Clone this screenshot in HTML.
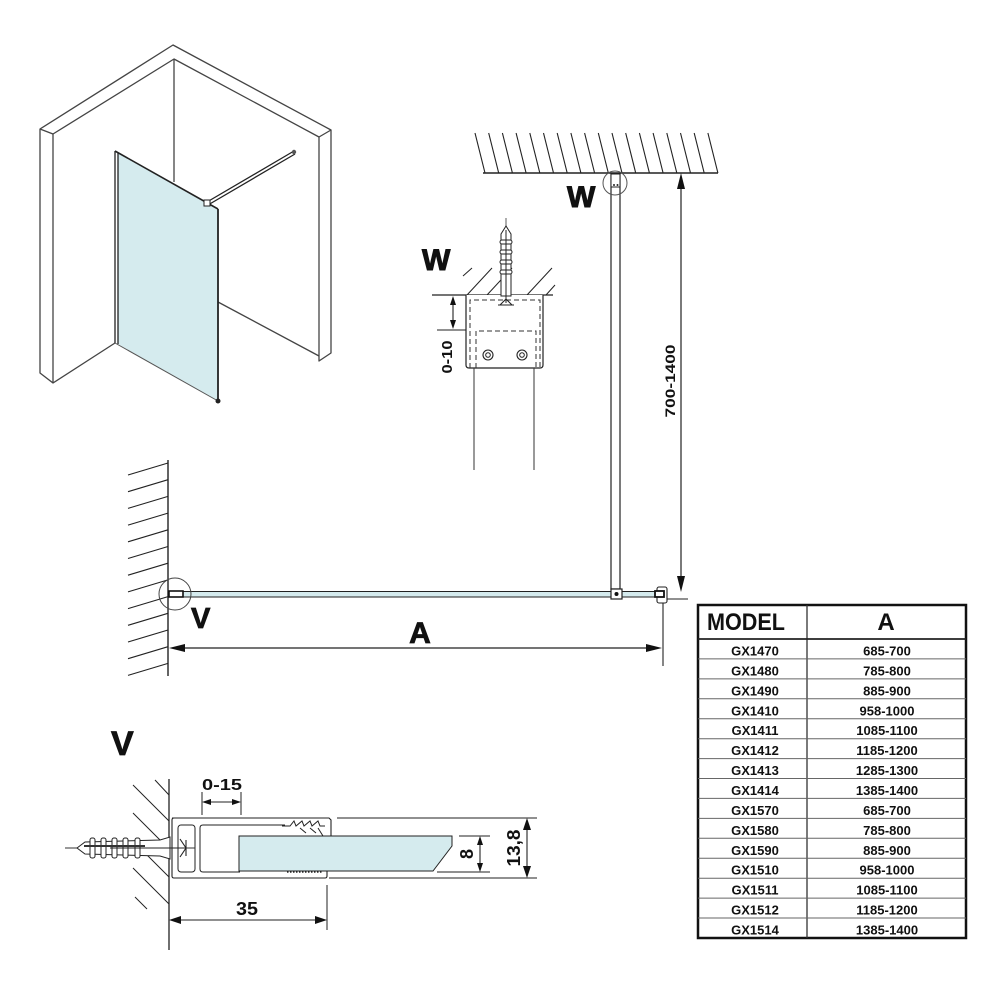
<!DOCTYPE html>
<html><head><meta charset="utf-8"><style>
html,body{margin:0;padding:0;background:#fff;}
svg{display:block;}
text{font-family:"Liberation Sans",Arial,sans-serif;font-weight:bold;fill:#111;}
</style></head><body>
<svg xmlns="http://www.w3.org/2000/svg" width="1000" height="1000" viewBox="0 0 1000 1000">
<rect width="1000" height="1000" fill="#fff"/>

<!-- ISO VIEW -->
<g fill="none" stroke="#444" stroke-width="1.3" stroke-linejoin="round">
  <path d="M40,129 L173,45 L331,130 L331,353 L319,361 L319,137 L174,59 L53,134 L53,383 L40,373 Z" fill="#fff"/>
  <line x1="40" y1="129" x2="53" y2="134"/>
  <line x1="331" y1="130" x2="319" y2="137"/>
  <line x1="174" y1="59" x2="174" y2="182"/>
  <line x1="53" y1="383" x2="115" y2="343"/>
  <line x1="218" y1="302" x2="319" y2="356"/>
</g>
<polygon points="118,153 218,210 218,401 118,344" fill="#d5ebee" stroke="none"/>
<g fill="none" stroke="#222" stroke-width="1.3">
  <line x1="115" y1="151" x2="115" y2="343"/>
  <line x1="118" y1="153" x2="118" y2="344"/>
  <line x1="115" y1="151" x2="218" y2="209" stroke-width="1.6"/>
  <line x1="218" y1="209" x2="218" y2="401" stroke-width="1.8"/>
  <line x1="115" y1="343" x2="218" y2="401" stroke="#555" stroke-width="1"/>
  <line x1="207" y1="202" x2="294" y2="151"/>
  <line x1="208" y1="205" x2="295" y2="154"/>
</g>
<rect x="204" y="200" width="6" height="6" fill="#fff" stroke="#222" stroke-width="1"/>
<circle cx="294" cy="152" r="2.2" fill="#555"/>
<circle cx="218" cy="401" r="2.5" fill="#222"/>

<!-- CEILING HATCH -->
<g stroke="#222" stroke-width="1.1">
  <line x1="483" y1="173" x2="718" y2="173" stroke-width="1.4"/>
  <line x1="475" y1="133" x2="485" y2="173"/>
  <line x1="488.7" y1="133" x2="498.7" y2="173"/>
  <line x1="502.4" y1="133" x2="512.4" y2="173"/>
  <line x1="516.1" y1="133" x2="526.1" y2="173"/>
  <line x1="529.8" y1="133" x2="539.8" y2="173"/>
  <line x1="543.5" y1="133" x2="553.5" y2="173"/>
  <line x1="557.2" y1="133" x2="567.2" y2="173"/>
  <line x1="570.9" y1="133" x2="580.9" y2="173"/>
  <line x1="584.6" y1="133" x2="594.6" y2="173"/>
  <line x1="598.3" y1="133" x2="608.3" y2="173"/>
  <line x1="612" y1="133" x2="622" y2="173"/>
  <line x1="625.7" y1="133" x2="635.7" y2="173"/>
  <line x1="639.4" y1="133" x2="649.4" y2="173"/>
  <line x1="653.1" y1="133" x2="663.1" y2="173"/>
  <line x1="666.8" y1="133" x2="676.8" y2="173"/>
  <line x1="680.5" y1="133" x2="690.5" y2="173"/>
  <line x1="694.2" y1="133" x2="704.2" y2="173"/>
  <line x1="707.9" y1="133" x2="717.9" y2="173"/>
</g>

<!-- vertical bar -->
<rect x="611" y="174" width="9" height="415" fill="#fff" stroke="#222" stroke-width="1.2"/>
<circle cx="615" cy="183" r="12" fill="none" stroke="#555" stroke-width="1"/>
<rect x="611" y="174" width="9" height="13" fill="#fff" stroke="#222" stroke-width="1"/>
<circle cx="614" cy="185" r="1" fill="#222"/><circle cx="617.5" cy="185" r="1" fill="#222"/>
<text x="567" y="207" font-size="30" stroke="#111" stroke-width="1">W</text>

<!-- 700-1400 dim -->
<line x1="681" y1="180" x2="681" y2="585" stroke="#222" stroke-width="1.2"/>
<polygon points="681,173 677,189 685,189" fill="#111"/>
<polygon points="681,592 677,576 685,576" fill="#111"/>
<text transform="translate(675,381) rotate(-90)" text-anchor="middle" font-size="14" textLength="73" lengthAdjust="spacingAndGlyphs">700-1400</text>
<line x1="667" y1="599" x2="688" y2="599" stroke="#222" stroke-width="1"/>

<!-- left wall main -->
<g stroke="#222" stroke-width="1.1">
  <line x1="168" y1="460" x2="168" y2="676" stroke-width="1.4"/>
  <line x1="128" y1="475" x2="168" y2="463"/>
  <line x1="128" y1="491.7" x2="168" y2="479.7"/>
  <line x1="128" y1="508.4" x2="168" y2="496.4"/>
  <line x1="128" y1="525.1" x2="168" y2="513.1"/>
  <line x1="128" y1="541.8" x2="168" y2="529.8"/>
  <line x1="128" y1="558.5" x2="168" y2="546.5"/>
  <line x1="128" y1="575.2" x2="168" y2="563.2"/>
  <line x1="128" y1="591.9" x2="168" y2="579.9"/>
  <line x1="128" y1="608.6" x2="168" y2="596.6"/>
  <line x1="128" y1="625.3" x2="168" y2="613.3"/>
  <line x1="128" y1="642" x2="168" y2="630"/>
  <line x1="128" y1="658.7" x2="168" y2="646.7"/>
  <line x1="128" y1="675.4" x2="168" y2="663.4"/>
</g>

<!-- horizontal bar -->
<rect x="183" y="591.5" width="475" height="5.5" fill="#d5ebee" stroke="#222" stroke-width="1"/>
<rect x="169" y="591" width="14" height="6" fill="#fff" stroke="#111" stroke-width="1.6"/>
<circle cx="175" cy="594" r="16" fill="none" stroke="#444" stroke-width="1"/>
<rect x="611" y="589" width="11" height="10" fill="#fff" stroke="#222" stroke-width="1.2"/>
<circle cx="616.5" cy="594" r="2" fill="#111"/>
<rect x="657" y="587" width="10" height="16" rx="2" fill="#fff" stroke="#222" stroke-width="1.1"/>
<rect x="655" y="591" width="9" height="6" fill="#fff" stroke="#111" stroke-width="1.8"/>
<text x="191" y="628" font-size="29" stroke="#111" stroke-width="0.8">V</text>

<!-- A dim -->
<line x1="176" y1="648" x2="656" y2="648" stroke="#222" stroke-width="1.2"/>
<polygon points="169,648 185,644 185,652" fill="#111"/>
<polygon points="662,648 646,644 646,652" fill="#111"/>
<line x1="663" y1="603" x2="663" y2="666" stroke="#222" stroke-width="1.1"/>
<text x="420" y="643" font-size="30" text-anchor="middle" stroke="#111" stroke-width="0.8">A</text>

<!-- W DETAIL -->
<text x="422" y="270" font-size="30" stroke="#111" stroke-width="1">W</text>
<g stroke="#222" stroke-width="1">
  <line x1="463" y1="276" x2="472" y2="268"/>
  <line x1="467" y1="295" x2="492" y2="268"/>
  <line x1="487" y1="295" x2="512" y2="268"/>
  <line x1="527" y1="295" x2="552" y2="268"/>
  <line x1="546" y1="295" x2="555" y2="285"/>
  <line x1="432" y1="295" x2="553" y2="295" stroke-width="1.3"/>
</g>
<path d="M466,295 L466,365 Q466,368 469,368 L540,368 Q543,368 543,365 L543,295" fill="#fff" stroke="#222" stroke-width="1.2"/>
<path d="M470,368 L470,300 L540,300 L540,368" fill="none" stroke="#333" stroke-width="1" stroke-dasharray="5,3"/>
<path d="M476,368 L476,331 L536,331 L536,368" fill="none" stroke="#333" stroke-width="1" stroke-dasharray="5,3"/>
<circle cx="488" cy="355" r="5" fill="#fff" stroke="#222" stroke-width="1.1"/>
<circle cx="488" cy="355" r="2.3" fill="none" stroke="#222" stroke-width="1"/>
<circle cx="522" cy="355" r="5" fill="#fff" stroke="#222" stroke-width="1.1"/>
<circle cx="522" cy="355" r="2.3" fill="none" stroke="#222" stroke-width="1"/>
<!-- anchor -->
<line x1="506" y1="218" x2="506" y2="226" stroke="#333" stroke-width="0.8"/>
<path d="M506,226 L501,234 L501,296 L511,296 L511,234 Z" fill="#fff" stroke="#222" stroke-width="1"/>
<g fill="#fff" stroke="#222" stroke-width="1">
  <rect x="500" y="240" width="12" height="4" rx="2"/>
  <rect x="500" y="250" width="12" height="4" rx="2"/>
  <rect x="500" y="260" width="12" height="4" rx="2"/>
  <rect x="500" y="270" width="12" height="4" rx="2"/>
</g>
<line x1="506" y1="230" x2="506" y2="303" stroke="#222" stroke-width="1"/>
<path d="M498,305 L514,305 M500,305 L506,299 L512,305" fill="none" stroke="#222" stroke-width="1.1"/>
<line x1="474" y1="368" x2="474" y2="470" stroke="#333" stroke-width="1"/>
<line x1="534" y1="368" x2="534" y2="470" stroke="#333" stroke-width="1"/>
<!-- 0-10 -->
<line x1="453" y1="303" x2="453" y2="322" stroke="#222" stroke-width="1.1"/>
<polygon points="453,296 450,305 456,305" fill="#111"/>
<polygon points="453,329 450,320 456,320" fill="#111"/>
<line x1="437" y1="330" x2="466" y2="330" stroke="#222" stroke-width="1"/>
<text transform="translate(452,357) rotate(-90)" text-anchor="middle" font-size="15" textLength="33" lengthAdjust="spacingAndGlyphs">0-10</text>

<!-- V DETAIL -->
<text x="111" y="755" font-size="34" stroke="#111" stroke-width="0.8">V</text>
<g stroke="#222" stroke-width="1">
  <line x1="155" y1="780" x2="169" y2="795"/>
  <line x1="133" y1="785" x2="169" y2="821"/>
  <line x1="133" y1="813" x2="169" y2="849"/>
  <line x1="133" y1="841" x2="169" y2="877"/>
  <line x1="133" y1="868" x2="169" y2="904"/>
  <line x1="135" y1="897" x2="147" y2="909"/>
  <line x1="169" y1="779" x2="169" y2="950" stroke-width="1.3"/>
</g>
<!-- profile -->
<path d="M172,818 L329,818 L331,820 L331,836 L327,838 L326,836 M327,871 L327,876 Q327,878 325,878 L174,878 Q172,878 172,876 L172,820 Q172,818 174,818" fill="#fff" stroke="#222" stroke-width="1.1"/>
<rect x="178" y="825" width="17" height="47" rx="3" fill="none" stroke="#222" stroke-width="1"/>
<path d="M285,825 L203,825 Q200,825 200,828 L200,869 Q200,872 203,872 L240,872" fill="none" stroke="#222" stroke-width="1"/>
<polygon points="239,836 452,836 452,846 433,871 239,871" fill="#d5ebee" stroke="#222" stroke-width="1"/>
<path d="M282,826 L290,826 L294,821 L296,826 L302,821 L304,826 L310,821 L312,826 L318,821 L320,826 L325,826 M300,828 L306,833 M310,828 L316,833 M318,828 L323,836" fill="none" stroke="#222" stroke-width="1"/>
<line x1="287" y1="872" x2="323" y2="872" stroke="#222" stroke-width="1.6" stroke-dasharray="1.5,1.5"/>
<!-- anchor V -->
<line x1="65" y1="848" x2="195" y2="848" stroke="#333" stroke-width="0.9"/>
<path d="M77,848 L85,842 L160,840 L170,837 L170,859 L160,856 L85,854 Z" fill="#fff" stroke="#222" stroke-width="1"/>
<g fill="#fff" stroke="#222" stroke-width="1">
  <rect x="90" y="838" width="5" height="20" rx="2"/>
  <rect x="101" y="838" width="5" height="20" rx="2"/>
  <rect x="112" y="838" width="5" height="20" rx="2"/>
  <rect x="123" y="838" width="5" height="20" rx="2"/>
  <rect x="135" y="838" width="5" height="20" rx="2"/>
</g>
<line x1="84" y1="846" x2="145" y2="846" stroke="#333" stroke-width="2"/>
<line x1="110" y1="848" x2="185" y2="848" stroke="#222" stroke-width="1"/>
<path d="M180,839 L186,848 L180,857 M186,840 L186,856" fill="none" stroke="#222" stroke-width="1.1"/>
<!-- 0-15 -->
<line x1="202" y1="792" x2="202" y2="815" stroke="#222" stroke-width="1"/>
<line x1="241" y1="792" x2="241" y2="815" stroke="#222" stroke-width="1"/>
<line x1="208" y1="802" x2="235" y2="802" stroke="#222" stroke-width="1.1"/>
<polygon points="202,802 211,799 211,805" fill="#111"/>
<polygon points="241,802 232,799 232,805" fill="#111"/>
<text x="222" y="790" font-size="16" text-anchor="middle" textLength="40" lengthAdjust="spacingAndGlyphs">0-15</text>
<!-- 35 -->
<line x1="327" y1="885" x2="327" y2="930" stroke="#222" stroke-width="1"/>
<line x1="176" y1="920" x2="320" y2="920" stroke="#222" stroke-width="1.1"/>
<polygon points="169,920 181,916 181,924" fill="#111"/>
<polygon points="327,920 315,916 315,924" fill="#111"/>
<text x="247" y="915" font-size="18" text-anchor="middle" textLength="22" lengthAdjust="spacingAndGlyphs">35</text>
<!-- 8 -->
<line x1="459" y1="836" x2="490" y2="836" stroke="#222" stroke-width="1"/>
<line x1="437" y1="872" x2="490" y2="872" stroke="#222" stroke-width="1"/>
<line x1="480" y1="842" x2="480" y2="866" stroke="#222" stroke-width="1.1"/>
<polygon points="480,836 477,845 483,845" fill="#111"/>
<polygon points="480,872 477,863 483,863" fill="#111"/>
<text transform="translate(473,854) rotate(-90)" text-anchor="middle" font-size="18">8</text>
<!-- 13,8 -->
<line x1="337" y1="818" x2="537" y2="818" stroke="#222" stroke-width="1"/>
<line x1="329" y1="878" x2="537" y2="878" stroke="#222" stroke-width="1"/>
<line x1="527" y1="826" x2="527" y2="870" stroke="#222" stroke-width="1.1"/>
<polygon points="527,818 523,830 531,830" fill="#111"/>
<polygon points="527,878 523,866 531,866" fill="#111"/>
<text transform="translate(520,848) rotate(-90)" text-anchor="middle" font-size="18" textLength="37" lengthAdjust="spacingAndGlyphs">13,8</text>

<!-- TABLE -->
<rect x="698" y="605" width="268" height="333" fill="#fff" stroke="#111" stroke-width="2.5"/>
<line x1="807" y1="605" x2="807" y2="938" stroke="#333" stroke-width="1.3"/>
<line x1="698" y1="639" x2="966" y2="639" stroke="#222" stroke-width="1.8"/>
<g stroke="#666" stroke-width="1">
  <line x1="698" y1="658.9" x2="966" y2="658.9"/>
  <line x1="698" y1="678.9" x2="966" y2="678.9"/>
  <line x1="698" y1="698.8" x2="966" y2="698.8"/>
  <line x1="698" y1="718.7" x2="966" y2="718.7"/>
  <line x1="698" y1="738.7" x2="966" y2="738.7"/>
  <line x1="698" y1="758.6" x2="966" y2="758.6"/>
  <line x1="698" y1="778.5" x2="966" y2="778.5"/>
  <line x1="698" y1="798.4" x2="966" y2="798.4"/>
  <line x1="698" y1="818.4" x2="966" y2="818.4"/>
  <line x1="698" y1="838.3" x2="966" y2="838.3"/>
  <line x1="698" y1="858.2" x2="966" y2="858.2"/>
  <line x1="698" y1="878.2" x2="966" y2="878.2"/>
  <line x1="698" y1="898.1" x2="966" y2="898.1"/>
  <line x1="698" y1="918" x2="966" y2="918"/>
</g>
<text x="707" y="630" font-size="24" textLength="78" lengthAdjust="spacingAndGlyphs">MODEL</text>
<text x="886" y="630" font-size="24" text-anchor="middle">A</text>
<g font-size="13" text-anchor="middle">
  <text x="755" y="655.5">GX1470</text><text x="887" y="655.5">685-700</text>
  <text x="755" y="675.4">GX1480</text><text x="887" y="675.4">785-800</text>
  <text x="755" y="695.3">GX1490</text><text x="887" y="695.3">885-900</text>
  <text x="755" y="715.3">GX1410</text><text x="887" y="715.3">958-1000</text>
  <text x="755" y="735.2">GX1411</text><text x="887" y="735.2">1085-1100</text>
  <text x="755" y="755.1">GX1412</text><text x="887" y="755.1">1185-1200</text>
  <text x="755" y="775.1">GX1413</text><text x="887" y="775.1">1285-1300</text>
  <text x="755" y="795">GX1414</text><text x="887" y="795">1385-1400</text>
  <text x="755" y="814.9">GX1570</text><text x="887" y="814.9">685-700</text>
  <text x="755" y="834.9">GX1580</text><text x="887" y="834.9">785-800</text>
  <text x="755" y="854.8">GX1590</text><text x="887" y="854.8">885-900</text>
  <text x="755" y="874.7">GX1510</text><text x="887" y="874.7">958-1000</text>
  <text x="755" y="894.7">GX1511</text><text x="887" y="894.7">1085-1100</text>
  <text x="755" y="914.6">GX1512</text><text x="887" y="914.6">1185-1200</text>
  <text x="755" y="934.5">GX1514</text><text x="887" y="934.5">1385-1400</text>
</g>
</svg>
</body></html>
